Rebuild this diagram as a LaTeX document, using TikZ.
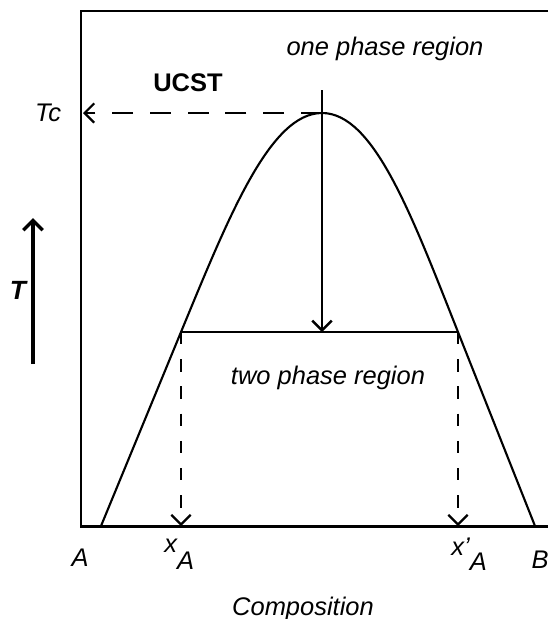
\documentclass[tikz,border=0pt]{standalone}
\usepackage{fontspec}
\setmainfont{Liberation Sans}
\usetikzlibrary{arrows.meta}

\begin{document}
\begin{tikzpicture}[x=0.02cm, y=-0.02cm, >={Straight Barb[length=5.5pt,width=11pt]},
    lbl/.style={font=\fontsize{14.5}{16}\selectfont\itshape, inner sep=0pt},
    guide/.style={->, line width=1.3pt, dash pattern=on 7pt off 8.5pt}]
    \useasboundingbox (0,0) rectangle (548,619);

    % axes frame
    \draw[line width=1.7pt] (548,11) -- (81,11) -- (81,526) -- (548,526);

    % coexistence curve
    \coordinate (peak) at (322,113);
    \coordinate (tieL) at (181,332);
    \coordinate (tieR) at (458,332);
    \draw[line width=1.2pt] (101,526) -- (tieL)
        .. controls (229,216) and (270,113) .. (peak)
        .. controls (374,113) and (412,216) .. (tieR) -- (535,526);

    % tie line and cooling path
    \coordinate (cool) at (322,90);
    \coordinate (tieM) at (322,332);
    \draw[line width=1.2pt] (tieL) -- (tieR);
    \draw[->, line width=1.4pt] (cool) -- (tieM);

    % critical temperature
    \coordinate (tcaxis) at (83,113);
    \draw[->, line width=1.3pt, dash pattern=on 12pt off 9.5pt] (peak) -- (tcaxis);
    \node[lbl] (tc) at (48,113) {Tc};
    \node[font=\fontsize{14.5}{16}\selectfont\bfseries] (ucst) at (188,83) {UCST};

    % compositions
    \coordinate (xAaxis) at (181,526);
    \coordinate (xBaxis) at (458,526);
    \draw[guide] (tieL) -- (xAaxis);
    \draw[guide] (tieR) -- (xBaxis);

    % temperature arrow
    \coordinate (Tlow) at (33,364);
    \coordinate (Thigh) at (33,218);
    \draw[->, line width=2pt] (Tlow) -- (Thigh);
    \node[lbl, font=\fontsize{15}{16}\selectfont\bfseries\itshape] (T) at (18,290) {T};

    % labels
    \node[lbl] (one) at (385,49) {one phase region};
    \node[lbl] (two) at (328,378) {two phase region};
    \node[lbl] (A) at (80,558) {A};
    \node[lbl] (B) at (540,560) {B};
    \node[lbl, anchor=base west] (xA) at (164,552) {x\raisebox{-10pt}{A}};
    \node[lbl, anchor=base west] (xpA) at (451,555) {x\char"0027\raisebox{-9pt}{A}};
    \node[lbl] (comp) at (303,609) {Composition};
\end{tikzpicture}
\end{document}
